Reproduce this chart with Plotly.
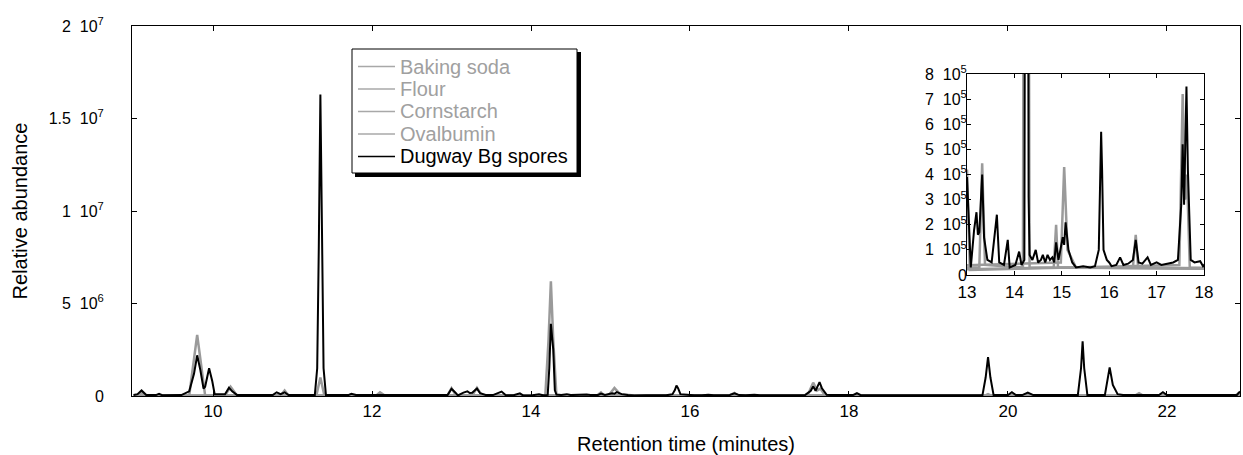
import plotly.graph_objects as go

# ---------------- data (retention time in minutes, relative abundance) ----------------
bg_t = [9.00, 9.05, 9.10, 9.16, 9.28, 9.32, 9.36, 9.60, 9.70, 9.76, 9.80, 9.84, 9.88, 9.90, 9.95, 9.99,
        10.02, 10.15, 10.20, 10.24, 10.30, 10.75, 10.80, 10.85, 10.90, 10.95, 11.28, 11.31, 11.33, 11.35,
        11.37, 11.39, 11.42, 11.70, 11.74, 11.80, 12.95, 13.00, 13.05, 13.08, 13.15, 13.20, 13.23, 13.26,
        13.32, 13.36, 13.43, 13.52, 13.63, 13.68, 13.78, 13.86, 13.90, 14.02, 14.10, 14.15, 14.21, 14.23,
        14.25, 14.28, 14.30, 14.32, 14.38, 14.45, 14.50, 14.56, 14.60, 14.65, 14.70, 14.75, 14.80, 14.84,
        14.88, 14.93, 15.02, 15.05, 15.08, 15.14, 15.22, 15.30, 15.45, 15.60, 15.70, 15.78, 15.81, 15.83,
        15.85, 15.88, 15.95, 16.00, 16.05, 16.15, 16.23, 16.30, 16.40, 16.50, 16.56, 16.62, 16.70, 16.81,
        16.88, 17.00, 17.10, 17.20, 17.35, 17.45, 17.52, 17.55, 17.58, 17.63, 17.66, 17.72, 17.80, 17.92,
        17.98, 18.05, 18.10, 18.15, 19.68, 19.72, 19.75, 19.78, 19.82, 20.00, 20.05, 20.10, 20.18, 20.25,
        20.32, 20.88, 20.92, 20.94, 20.96, 21.00, 21.22, 21.26, 21.28, 21.32, 21.38, 21.45, 21.90, 21.95,
        22.00, 22.88, 22.92]
bg_v = [0.5e5, 1.0e5, 3.0e5, 0.5e5, 0.5e5, 1.2e5, 0.4e5, 0.5e5, 2.5e5, 1.2e6, 2.2e6, 1.4e6, 0.4e6, 0.5e6, 1.5e6, 0.8e6,
        0.1e6, 0.1e6, 4.5e5, 2.5e5, 0.6e5, 0.5e5, 2.0e5, 1.0e5, 2.0e5, 0.5e5, 0.5e5, 1.5e6, 8.0e6, 1.63e7,
        9.0e6, 1.5e6, 0.5e5, 0.5e5, 1.2e5, 0.5e5, 0.5e5, 3.9e5, 1.8e5, 0.3e5, 1.8e5, 2.5e5, 1.6e5, 1.7e5,
        4.0e5, 1.5e5, 0.6e5, 0.5e5, 2.4e5, 0.5e5, 0.4e5, 1.4e5, 0.3e5, 0.4e5, 0.93e5, 0.4e5, 0.6e5, 1.5e6,
        3.9e6, 2.5e6, 3.1e5, 0.8e5, 0.6e5, 1.0e5, 0.5e5, 0.6e5, 0.8e5, 0.5e5, 0.8e5, 0.6e5, 0.7e5, 0.5e5,
        1.3e5, 0.6e5, 1.5e5, 1.2e5, 2.1e5, 1.0e5, 0.5e5, 0.3e5, 0.35e5, 0.3e5, 0.35e5, 1.0e5, 3.2e5, 5.7e5,
        4.2e5, 1.0e5, 0.6e5, 0.5e5, 0.35e5, 0.4e5, 0.7e5, 0.4e5, 0.45e5, 0.6e5, 1.4e5, 0.5e5, 0.45e5, 0.7e5,
        0.4e5, 0.5e5, 0.4e5, 0.45e5, 0.5e5, 0.6e5, 2.8e5, 5.2e5, 2.8e5, 7.5e5, 4.2e5, 0.6e5, 0.5e5, 0.55e5,
        0.35e5, 0.5e5, 1.5e5, 0.4e5, 0.5e5, 1.0e6, 2.1e6, 1.0e6, 0.5e5, 0.5e5, 2.0e5, 0.5e5, 0.5e5, 1.8e5,
        0.5e5, 0.5e5, 1.5e6, 2.95e6, 1.5e6, 0.5e5, 0.5e5, 1.0e6, 1.55e6, 0.6e6, 1.0e5, 0.5e5, 0.5e5, 2.0e5,
        0.5e5, 0.5e5, 2.5e5]

soda_t = [9.00, 9.06, 9.10, 9.15, 12.05, 12.10, 12.16, 14.83, 14.88, 14.92, 16.50, 16.56, 16.61, 21.60, 21.65, 21.70, 22.92]
soda_v = [0.2e5, 0.3e5, 2.0e5, 0.2e5, 0.2e5, 2.0e5, 0.2e5, 0.3e5, 2.0e5, 0.3e5, 0.3e5, 1.6e5, 0.3e5, 0.2e5, 1.5e5, 0.2e5, 0.2e5]

flour_t = [9.00, 9.70, 9.76, 9.80, 9.84, 9.90, 13.26, 13.32, 13.38, 14.18, 14.22, 14.25, 14.28, 14.32, 22.92]
flour_v = [0.2e5, 0.3e5, 2.0e6, 3.3e6, 2.0e6, 0.3e5, 0.3e5, 4.45e5, 0.4e5, 0.3e5, 3.0e6, 6.2e6, 3.0e6, 0.3e5, 0.2e5]

corn_t = [9.00, 10.15, 10.22, 10.30, 11.30, 11.35, 11.40, 14.98, 15.05, 15.12, 15.30, 20.18, 20.25, 20.32, 22.92]
corn_v = [0.2e5, 0.3e5, 5.0e5, 0.3e5, 0.3e5, 1.0e6, 0.3e5, 0.5e5, 4.3e5, 1.0e5, 0.3e5, 0.2e5, 1.0e5, 0.2e5, 0.2e5]

oval_t = [9.00, 10.85, 10.90, 10.95, 12.95, 13.00, 13.06, 17.48, 17.55, 17.60, 17.64, 17.70, 19.71, 19.75, 19.79, 22.86, 22.90, 22.92]
oval_v = [0.2e5, 0.3e5, 3.0e5, 0.3e5, 0.3e5, 4.2e5, 0.2e5, 0.4e5, 7.2e5, 3.0e5, 4.0e5, 0.3e5, 0.2e5, 1.0e5, 0.2e5, 0.2e5, 1.5e5, 1.0e5]

gray_names = ["Baking soda", "Flour", "Cornstarch", "Ovalbumin"]
gray_data = [(soda_t, soda_v), (flour_t, flour_v), (corn_t, corn_v), (oval_t, oval_v)]
black_name = "Dugway Bg spores"

main_yticks = [0, 5e6, 1e7, 1.5e7, 2e7]
main_ytext = ["0", "5&nbsp;&nbsp;10<sup>6</sup>", "1&nbsp;&nbsp;10<sup>7</sup>",
              "1.5&nbsp;&nbsp;10<sup>7</sup>", "2&nbsp;&nbsp;10<sup>7</sup>"]
main_xticks = [10, 12, 14, 16, 18, 20, 22]
inset_yticks = [0, 1e5, 2e5, 3e5, 4e5, 5e5, 6e5, 7e5, 8e5]
inset_ytext = ["0"] + [f"{i}&nbsp;&nbsp;10<sup>5</sup>" for i in range(1, 9)]
inset_xticks = [13, 14, 15, 16, 17, 18]

GRAY = "#9a9a9a"
TXTGRAY = "#a0a0a0"
FONT = "Liberation Sans, Arial, sans-serif"

fig = go.Figure()
for name, (t, v) in zip(gray_names, gray_data):
    fig.add_trace(go.Scatter(x=t, y=v, mode="lines", line=dict(color=GRAY, width=2.5),
                             name=name, showlegend=False))
fig.add_trace(go.Scatter(x=bg_t, y=bg_v, mode="lines", line=dict(color="black", width=2),
                         name=black_name, showlegend=False))
for name, (t, v) in zip(gray_names, gray_data):
    fig.add_trace(go.Scatter(x=t, y=v, mode="lines", line=dict(color=GRAY, width=2.5),
                             xaxis="x2", yaxis="y2", name=name, showlegend=False))
fig.add_trace(go.Scatter(x=bg_t, y=bg_v, mode="lines", line=dict(color="black", width=2),
                         xaxis="x2", yaxis="y2", name=black_name, showlegend=False))

W, H = 1243, 455
L, R, T, B = 132, 3, 26, 59
PW, PH = W - L - R, H - T - B

def px(x):
    return (x - L) / PW

def py(y):
    return (H - B - y) / PH

axis_common = dict(showline=True, linecolor="black", linewidth=1, mirror="ticks", ticks="inside",
                   tickcolor="black", showgrid=False, zeroline=False)

# ---- hand-drawn legend box (with drop shadow) ----
shapes = [
    dict(type="rect", xref="paper", yref="paper", x0=px(355), x1=px(581), y0=py(177), y1=py(52),
         fillcolor="black", line=dict(width=0), layer="above"),
    dict(type="rect", xref="paper", yref="paper", x0=px(352), x1=px(577), y0=py(173), y1=py(49),
         fillcolor="white", line=dict(color="black", width=1), layer="above"),
]
annotations = []
row_y = [66.5, 89, 111.5, 134, 156.5]
labels = gray_names + [black_name]
for i, (lab, yy) in enumerate(zip(labels, row_y)):
    col = "black" if lab == black_name else TXTGRAY
    shapes.append(dict(type="line", xref="paper", yref="paper", x0=px(358), x1=px(395),
                       y0=py(yy), y1=py(yy), line=dict(color=col if i == 4 else "#a8a8a8", width=1.5),
                       layer="above"))
    annotations.append(dict(text=lab, xref="paper", yref="paper", x=px(398), y=py(yy),
                            xanchor="left", yanchor="middle", showarrow=False,
                            font=dict(size=20, color=col)))

fig.update_layout(
    width=W, height=H,
    margin=dict(l=L, r=R, t=T, b=B, autoexpand=False),
    paper_bgcolor="white", plot_bgcolor="white",
    font=dict(family=FONT, color="black", size=17),
    showlegend=False,
    xaxis=dict(range=[8.98, 22.92], tickvals=main_xticks, ticklen=5,
               title=dict(text="Retention time (minutes)", font=dict(size=20), standoff=17),
               **axis_common),
    yaxis=dict(range=[0, 2e7], tickvals=main_yticks, ticktext=main_ytext, ticklen=5,
               ticklabelstandoff=24, tickfont=dict(size=16),
               title=dict(text="Relative abundance", font=dict(size=20)), **axis_common),
    xaxis2=dict(domain=[px(967), px(1204)], anchor="y2", range=[13, 18], tickvals=inset_xticks,
                ticklen=4, tickfont=dict(size=17), ticklabelstandoff=2, **axis_common),
    yaxis2=dict(domain=[py(275), py(74)], anchor="x2", range=[0, 8e5], tickvals=inset_yticks,
                ticktext=inset_ytext, ticklen=4, tickfont=dict(size=16), ticklabelstandoff=-4,
                **axis_common),
    shapes=shapes,
    annotations=annotations,
)

fig.write_html("out.html")
